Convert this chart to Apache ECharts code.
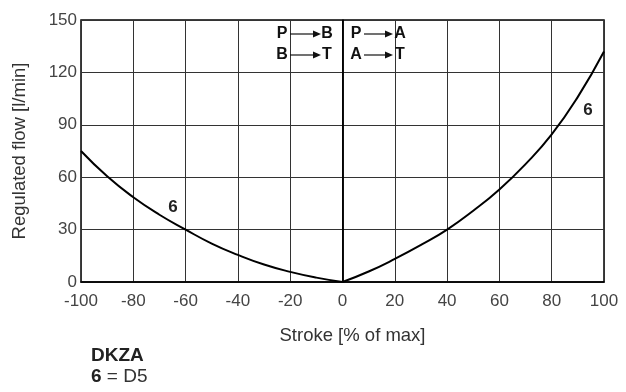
<!DOCTYPE html>
<html>
<head>
<meta charset="utf-8">
<script src="https://cdn.jsdelivr.net/npm/echarts@6/dist/echarts.min.js"></script>
<style>
  html, body { margin: 0; padding: 0; background: #fff; }
  #chart { width: 626px; height: 392px; }
</style>
</head>
<body>
<div id="chart"></div>
<script>
// stroke ticks and flow ticks
const strokeTicks = [-100, -80, -60, -40, -20, 0, 20, 40, 60, 80, 100]
const flowTicks = [0, 30, 60, 90, 120, 150]

// curve 6, B side (negative stroke)
const leftStroke = [-100, -90, -80, -70, -60, -50, -40, -30, -20, -10, 0]
const leftFlow = [75, 60.5, 48.5, 38.5, 30, 22, 15.5, 10, 5.8, 2.5, 0]

// curve 6, A side (positive stroke)
const rightStroke = [0, 10, 20, 30, 40, 50, 60, 70, 80, 90, 100]
const rightFlow = [0, 6, 13.2, 21.2, 30, 40.8, 53, 67.5, 84.5, 106, 132]

const chart = echarts.init(document.getElementById('chart'))

const font = 'Liberation Sans, Arial, Helvetica, sans-serif'
const narrow = 'Liberation Sans Narrow, Arial Narrow, Liberation Sans, sans-serif'

// arrow: thin line + filled head
const arrow = (x1, x2, y) => ([
  { type: 'line', shape: { x1: x1, y1: y, x2: x2 - 7, y2: y }, style: { stroke: '#111', lineWidth: 1.2 }, z: 10 },
  { type: 'polygon', shape: { points: [[x2 - 8, y - 3.5], [x2, y], [x2 - 8, y + 3.5]] }, style: { fill: '#111' }, z: 10 }
])

const letter = (txt, x, y) => ({
  type: 'text', x: x, y: y, z: 10,
  style: { text: txt, font: 'bold 16px ' + narrow, fill: '#111', align: 'center', verticalAlign: 'middle' }
})

const option = {
  animation: false,
  grid: {
    left: 81, right: 22, top: 20, bottom: 110,
    show: true, borderColor: '#000', borderWidth: 1.5
  },
  xAxis: {
    type: 'value',
    min: -100, max: 100, interval: 20,
    name: 'Stroke [% of max]',
    nameLocation: 'middle',
    nameGap: 44,
    nameTextStyle: { fontFamily: font, fontSize: 18.5, color: '#333', padding: [0, 0, 0, 20] },
    axisLine: { show: true, lineStyle: { color: '#000', width: 1.5 } },
    axisTick: { show: false },
    axisLabel: {
      margin: 11, fontFamily: font, fontSize: 17, color: '#444',
      formatter: v => strokeTicks.includes(v) ? String(v) : ''
    },
    splitLine: { show: true, lineStyle: { color: '#333', width: 1 } }
  },
  yAxis: {
    type: 'value',
    min: 0, max: 150, interval: 30,
    name: 'Regulated flow [l/min]',
    nameLocation: 'middle',
    nameGap: 52,
    nameRotate: 90,
    nameTextStyle: { fontFamily: font, fontSize: 18.5, color: '#333' },
    axisLine: { show: true, lineStyle: { color: '#000', width: 1.5 } },
    axisTick: { show: false },
    axisLabel: {
      margin: 4, fontFamily: font, fontSize: 17, color: '#444', padding: [0, 0, 6, 0],
      formatter: v => flowTicks.includes(v) ? String(v) : ''
    },
    splitLine: { show: true, lineStyle: { color: '#333', width: 1 } }
  },
  series: [
    {
      name: 'B',
      type: 'line',
      smooth: 0.5,
      symbol: 'none',
      lineStyle: { color: '#000', width: 2 },
      data: leftStroke.map((s, i) => [s, leftFlow[i]]),
      markLine: {
        silent: true, symbol: 'none', label: { show: false },
        lineStyle: { color: '#000', width: 1.5, type: 'solid' },
        data: [{ xAxis: 0 }]
      }
    },
    {
      name: 'A',
      type: 'line',
      smooth: 0.5,
      symbol: 'none',
      lineStyle: { color: '#000', width: 2 },
      data: rightStroke.map((s, i) => [s, rightFlow[i]])
    }
  ],
  graphic: [
    // flow direction notes
    letter('P', 282, 34), ...arrow(290, 321, 34), letter('B', 327, 34),
    letter('B', 282, 55), ...arrow(290, 321, 55), letter('T', 327, 55),
    letter('P', 356, 34), ...arrow(364, 393, 34), letter('A', 400, 34),
    letter('A', 356, 55), ...arrow(364, 393, 55), letter('T', 400, 55),
    // curve labels
    {
      type: 'text', x: 173, y: 207, z: 10,
      style: { text: '6', font: 'bold 17px ' + font, fill: '#222', align: 'center', verticalAlign: 'middle' }
    },
    {
      type: 'text', x: 588, y: 110, z: 10,
      style: { text: '6', font: 'bold 17px ' + font, fill: '#222', align: 'center', verticalAlign: 'middle' }
    },
    // legend below
    {
      type: 'text', left: 91, top: 346,
      style: { text: 'DKZA', font: 'bold 19px ' + font, fill: '#222' }
    },
    {
      type: 'text', left: 91, top: 367,
      style: {
        text: '{b|6} = D5',
        font: '19px ' + font, fill: '#333',
        rich: { b: { fontFamily: font, fontSize: 19, fontWeight: 'bold', fill: '#222' } }
      }
    }
  ]
}

chart.setOption(option)
</script>
</body>
</html>
